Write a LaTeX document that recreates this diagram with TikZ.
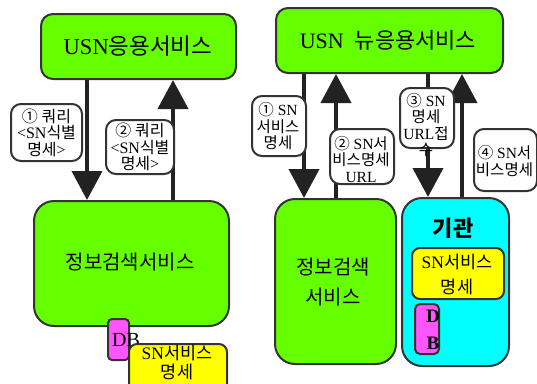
\documentclass[tikz,border=0pt]{standalone}
\usepackage{fontspec}
\setmainfont{Liberation Serif}
\newfontfamily\kr{Noto Sans CJK KR}
\usetikzlibrary{arrows.meta}
\definecolor{bordc}{HTML}{333333}
\definecolor{arrc}{HTML}{222222}
\definecolor{grn}{HTML}{66FF00}
\definecolor{cyn}{HTML}{00FFFF}
\definecolor{yel}{HTML}{FFFF00}
\definecolor{pnk}{HTML}{FF55FF}
\tikzset{
  bx/.style={draw=bordc, line width=2pt, inner sep=0pt, anchor=north west},
  lbl/.style={bx, fill=white, rounded corners=10pt},
  txt/.style={inner sep=0pt, align=center},
  arr/.style={draw=arrc, line width=4pt, -{Triangle[width=30pt,length=29pt]}},
  f15/.style={font=\fontsize{16}{16.5}\selectfont},
  f14/.style={font=\fontsize{15.5}{16.5}\selectfont}
}
\begin{document}
\begin{tikzpicture}[x=1pt,y=-1pt]
\useasboundingbox (0,0) rectangle (537,383);
% top boxes
\node[bx, fill=grn, rounded corners=12pt, minimum width=195pt, minimum height=65pt] (usn1) at (40,13) {};
\node[txt, font=\fontsize{22.5}{24}\selectfont] (usn1t) at (138,46) {USN{\kr 응용서비스}};
\node[bx, fill=grn, rounded corners=12pt, minimum width=227pt, minimum height=65pt] (usn2) at (275,7) {};
\node[txt, font=\fontsize{22}{24}\selectfont] (usn2t) at (388,40) {USN\ \ {\kr 뉴응용서비스}};
% bottom left
\node[bx, fill=grn, rounded corners=20pt, minimum width=195pt, minimum height=125pt] (info1) at (33,200) {};
\node[txt, font=\fontsize{20}{24}\selectfont\kr] (info1t) at (130,262) {정보검색서비스};
\node[bx, fill=pnk, rounded corners=4pt, minimum width=21pt, minimum height=41pt] (db1) at (107,318) {};
\node[txt, font=\fontsize{20}{24}\selectfont] (db1t) at (126,340) {DB};
\node[bx, fill=yel, rounded corners=8pt, minimum width=98pt, minimum height=50pt] (yel1) at (128,343) {};
\node[txt, font=\fontsize{17.5}{19}\selectfont] (yel1t) at (177,362.5) {SN{\kr 서비스}\\{\kr 명세}};
% bottom right
\node[bx, fill=grn, rounded corners=20pt, minimum width=121pt, minimum height=165pt] (info2) at (274,198) {};
\node[txt, font=\fontsize{20}{30}\selectfont\kr] (info2t) at (333,282) {정보검색\\서비스};
\node[bx, fill=cyn, rounded corners=20pt, minimum width=107pt, minimum height=168pt] (org) at (401,197) {};
\node[txt, font=\fontsize{22}{24}\selectfont\kr\bfseries] (orgt) at (453,228) {기관};
\node[bx, fill=yel, rounded corners=8pt, minimum width=92pt, minimum height=51pt] (yel2) at (411,247) {};
\node[txt, font=\fontsize{17.5}{25}\selectfont] (yel2t) at (457,274.5) {SN{\kr 서비스}\\{\kr 명세}};
\node[bx, fill=pnk, rounded corners=5pt, minimum width=24pt, minimum height=50pt] (db2) at (414,303) {};
\node[txt, font=\fontsize{19}{27}\selectfont\bfseries] (db2t) at (433,329.5) {D\\B};
% arrows
\draw[arr] (87,0 |- usn1.south) -- (87,0 |- info1.north);
\draw[arr] (173,0 |- info1.north) -- (173,0 |- usn1.south);
\draw[arr] (304,0 |- usn2.south) -- (304,0 |- info2.north);
\draw[arr] (336,0 |- info2.north) -- (336,0 |- usn2.south);
\draw[arr] (428,0 |- usn2.south) -- (428,0 |- org.north);
\draw[arr] (462,0 |- org.north) -- (462,0 |- usn2.south);
% labels left
\node[lbl, minimum width=71pt, minimum height=57pt] (l1) at (10,103) {};
\node[txt, f15] (l1t) at (l1.center) {{\kr ① 쿼리}\\<SN{\kr 식별}\\{\kr 명세}>};
\node[lbl, minimum width=68pt, minimum height=54pt] (l2) at (105,119) {};
\node[txt, f15] (l2t) at (l2.center) {{\kr ② 쿼리}\\<SN{\kr 식별}\\{\kr 명세}>};
% labels right
\node[lbl, minimum width=54pt, minimum height=60pt] (r1) at (251,95) {};
\node[txt, f14] (r1t) at (278,126.5) {{\kr ①} SN\\{\kr 서비스}\\{\kr 명세}};
\node[lbl, minimum width=64pt, minimum height=55pt] (r2) at (329,128) {};
\node[txt, f14] (r2t) at (361,159.5) {{\kr ②} SN{\kr 서}\\{\kr 비스명세}\\URL};
\node[lbl, minimum width=54pt, minimum height=60pt] (r3) at (399,87) {};
\node[txt, f14] (r3t) at (426,125) {{\kr ③} SN\\{\kr 명세}\\URL{\kr 접}\\{\kr 수}};
\node[lbl, minimum width=63pt, minimum height=62pt] (r4) at (473,128) {};
\node[txt, f14] (r4t) at (504.5,161) {{\kr ④} SN{\kr 서}\\{\kr 비스명세}};
\end{tikzpicture}
\end{document}
